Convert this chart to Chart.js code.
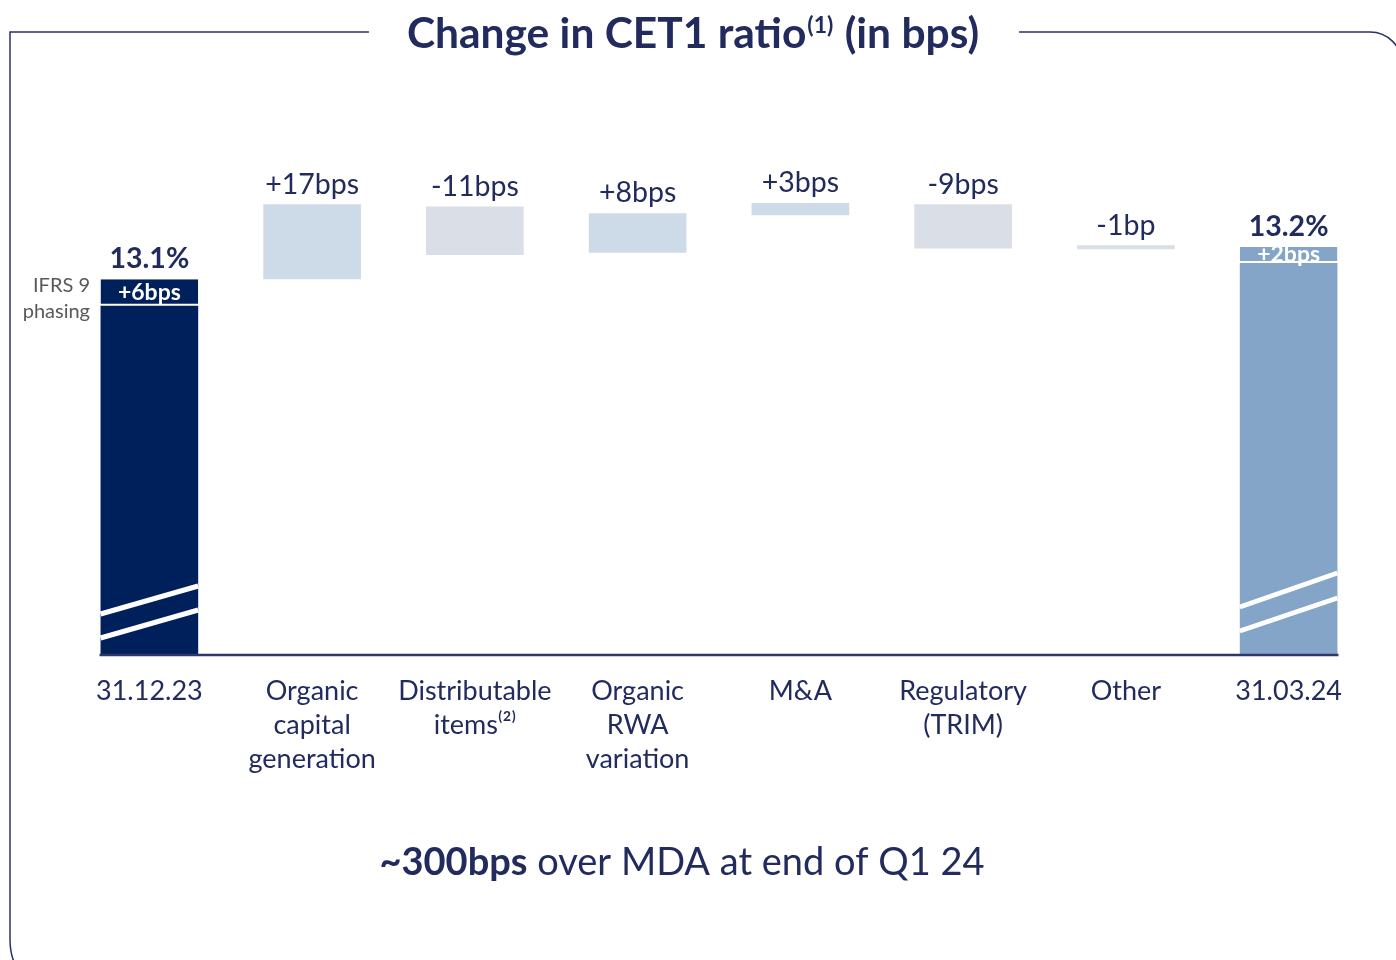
<!DOCTYPE html>
<html lang="en">
<head>
<meta charset="UTF-8">
<title>Change in CET1 ratio</title>
<script src="https://cdn.jsdelivr.net/npm/chart.js"></script>
<style>
  html, body { margin: 0; padding: 0; background: #fff; }
  #wrap { width: 1396px; height: 960px; }
</style>
</head>
<body>
<div id="wrap"><canvas id="cet1Chart" width="1396" height="960"></canvas></div>
<script>
// data (bps of CET1, axis is broken below 1225)
const categories = [
  ['31.12.23'],
  ['Organic', 'capital', 'generation'],
  ['Distributable', 'items\u207D\u00B2\u207E'],
  ['Organic', 'RWA', 'variation'],
  ['M&A'],
  ['Regulatory', '(TRIM)'],
  ['Other'],
  ['31.03.24']
];
const barRanges = [
  [1225, 1304], [1310, 1327], [1315.5, 1326.5], [1316, 1325],
  [1324.5, 1327.3], [1317, 1327], [1316.8, 1317.7], [1225, 1313.7]
];
const phasingRanges = [[1304, 1310], null, null, null, null, null, null, [1313.7, 1317.3]];
const valueLabels = ['13.1%', '+17bps', '-11bps', '+8bps', '+3bps', '-9bps', '-1bp', '13.2%'];
const phasingLabels = ['+6bps', '', '', '', '', '', '', '+2bps'];

const NAVY = '#222b5e';
const FONT = 'Lato, "Noto Sans", sans-serif';
const barColors = ['#00205b', '#cddbe8', '#dadee6', '#cddbe8', '#cddbe8', '#dadee6', '#dadee6', '#84a5c8'];

// white diagonal break marks, offsets above the axis: [left, right]
const breakMarks = { 0: [[40, 68], [16, 44]], 7: [[47, 81], [23, 56]] };

const decor = {
  id: 'decor',
  afterDatasetsDraw(chart) {
    const ctx = chart.ctx;
    const y = chart.scales.y;
    const main = chart.getDatasetMeta(0).data;
    const phase = chart.getDatasetMeta(1).data;
    const axisY = y.getPixelForValue(y.min);
    ctx.save();

    // break marks
    Object.keys(breakMarks).forEach(i => {
      const b = main[i];
      const l = b.x - b.width / 2, r = b.x + b.width / 2;
      ctx.strokeStyle = '#fff';
      ctx.lineWidth = 5;
      breakMarks[i].forEach(m => {
        ctx.beginPath();
        ctx.moveTo(l, axisY - m[0]);
        ctx.lineTo(r, axisY - m[1]);
        ctx.stroke();
      });
    });

    // axis line
    const first = main[0], last = main[main.length - 1];
    ctx.strokeStyle = '#2f3669';
    ctx.lineWidth = 2.5;
    ctx.beginPath();
    ctx.moveTo(first.x - first.width / 2 - 1, axisY + 1);
    ctx.lineTo(last.x + last.width / 2 + 1, axisY + 1);
    ctx.stroke();

    // value labels
    ctx.textAlign = 'center';
    ctx.textBaseline = 'middle';
    main.forEach((b, i) => {
      let top = Math.min(b.y, b.base);
      if (phasingRanges[i]) top = Math.min(top, phase[i].y, phase[i].base);
      const total = (i === 0 || i === main.length - 1);
      ctx.fillStyle = NAVY;
      ctx.font = (total ? 'bold 28.5px ' : '28.5px ') + FONT;
      ctx.fillText(valueLabels[i], b.x, top - 20);
      if (phasingLabels[i]) {
        const p = phase[i];
        ctx.fillStyle = '#fff';
        ctx.font = 'bold 23px ' + FONT;
        ctx.fillText(phasingLabels[i], p.x, (p.y + p.base) / 2);
      }
    });

    // IFRS 9 phasing note
    ctx.textAlign = 'right';
    ctx.fillStyle = '#595959';
    ctx.font = '20px ' + FONT;
    ctx.fillText('IFRS 9', 90, 286);
    ctx.fillText('phasing', 90, 312);
    ctx.restore();
  },
  afterDraw(chart) {
    const ctx = chart.ctx;
    ctx.save();

    // title with superscript
    const t1 = 'Change in CET1 ratio', sup = '(1)', t2 = ' (in bps)';
    ctx.font = 'bold 42.5px ' + FONT;
    const w1 = ctx.measureText(t1).width, w2 = ctx.measureText(t2).width;
    ctx.font = 'bold 23px ' + FONT;
    const ws = ctx.measureText(sup).width + 2;
    const tw = w1 + ws + w2;
    const x0 = 693 - tw / 2;
    ctx.fillStyle = NAVY;
    ctx.textBaseline = 'alphabetic';
    ctx.textAlign = 'left';
    ctx.font = 'bold 42.5px ' + FONT;
    ctx.fillText(t1, x0, 48);
    ctx.fillText(t2, x0 + w1 + ws, 48);
    ctx.font = 'bold 23px ' + FONT;
    ctx.fillText(sup, x0 + w1 + 1, 33);

    // frame around the chart
    ctx.strokeStyle = '#2b3163';
    ctx.lineWidth = 1.5;
    ctx.beginPath();
    ctx.moveTo(x0 - 38, 32);
    ctx.lineTo(10, 32);
    ctx.arcTo(10, 1000, 80, 1000, 60);
    ctx.stroke();
    ctx.beginPath();
    ctx.moveTo(x0 + tw + 40, 32);
    ctx.arcTo(1402, 32, 1402, 120, 32);
    ctx.stroke();

    // footer
    const f1 = '~300bps', f2 = ' over MDA at end of Q1 24';
    ctx.font = 'bold 38px ' + FONT;
    const fw1 = ctx.measureText(f1).width;
    ctx.font = '38px ' + FONT;
    const fw2 = ctx.measureText(f2).width;
    const fx = 682 - (fw1 + fw2) / 2;
    ctx.font = 'bold 38px ' + FONT;
    ctx.fillText(f1, fx, 875);
    ctx.font = '38px ' + FONT;
    ctx.fillText(f2, fx + fw1, 875);
    ctx.restore();
  }
};

new Chart(document.getElementById('cet1Chart'), {
  type: 'bar',
  data: {
    labels: categories,
    datasets: [{
      data: barRanges,
      backgroundColor: barColors,
      barPercentage: 0.6,
      categoryPercentage: 1
    }, {
      data: phasingRanges,
      backgroundColor: barColors,
      borderColor: '#fff',
      borderWidth: { top: 0, left: 0, right: 0, bottom: 2 },
      borderSkipped: false,
      grouped: false,
      barPercentage: 0.6,
      categoryPercentage: 1
    }]
  },
  options: {
    responsive: false,
    animation: false,
    layout: { padding: { top: 147, left: 68, right: 26, bottom: 0 } },
    plugins: { legend: { display: false }, tooltip: { enabled: false } },
    scales: {
      x: {
        grid: { display: false, drawTicks: false },
        border: { display: false },
        ticks: {
          color: NAVY,
          font: { family: FONT, size: 27, lineHeight: 1.26 },
          padding: 20,
          maxRotation: 0,
          autoSkip: false
        },
        afterFit(scale) { scale.height = 306; }
      },
      y: {
        display: false,
        min: 1225,
        max: 1340
      }
    }
  },
  plugins: [decor]
});
</script>
</body>
</html>
